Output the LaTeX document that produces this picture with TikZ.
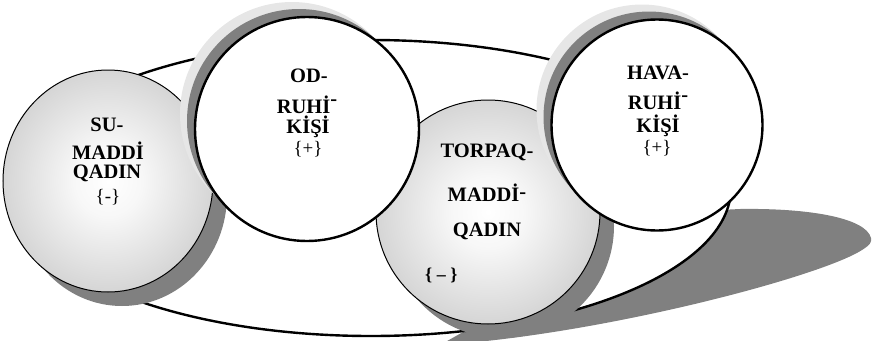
\documentclass[tikz,border=0pt]{standalone}
\usepackage{fontspec}
\setmainfont{Liberation Serif}
\usetikzlibrary{shapes.geometric, shadows}

\definecolor{shadowgrey}{HTML}{808080}
\definecolor{bandlight}{HTML}{E6E6E6}
\definecolor{banddark}{HTML}{808080}
\pgfdeclareradialshading{ballgrey}{\pgfpoint{0bp}{0bp}}{%
  color(0bp)=(white); color(8bp)=(white!97!black); color(50bp)=(black!36)}

\tikzset{
  matter/.style={
    draw=black,
    line width=1pt,
    shading=ballgrey,
    inner sep=0pt,
    general shadow={fill=shadowgrey, shadow xshift=14pt, shadow yshift=-14pt}
    },
  spirit/.style={
    circle,
    draw=black,
    line width=2.4pt,
    fill=white,
    inner sep=0pt,
    general shadow={fill=bandlight, shadow xshift=-15pt, shadow yshift=15pt},
    general shadow={fill=banddark, shadow xshift=-8pt, shadow yshift=8pt}
    },
  word/.style={
    font=\fontsize{20.5}{24}\selectfont\bfseries,
    inner sep=0pt,
    anchor=base
    },
  sign/.style={
    font=\fontsize{19}{22}\selectfont,
    inner sep=0pt,
    anchor=base
    }
}

\begin{document}
\begin{tikzpicture}[x=1pt, y=-1pt]
\useasboundingbox (0,0) rectangle (872,340);
% shadow of the ring
\fill[shadowgrey] (871,238) .. controls (866,218) and (810,208) .. (740,209)
  -- (620,215) -- (520,300) -- (440,345)
  .. controls (600,335) and (820,277) .. (862,250)
  .. controls (870,245) and (872,242) .. (871,238);
\node (ring) [ellipse, draw=black, line width=2.4pt, fill=white, inner sep=0pt,
  minimum width=720pt, minimum height=296pt] at (371,188) {};
% the four elements
\node (su) [matter, ellipse, minimum width=210pt, minimum height=222pt] at (108,181) {};
\node (torpaq) [matter, circle, minimum size=224pt] at (488,212) {};
\node (od) [spirit, minimum size=224pt] at (307,129) {};
\node (hava) [spirit, minimum size=211pt] at (657,125) {};
% su
\node (su1) [word] at (107,131) {SU-};
\node (su2) [word] at (108,159) {MADDİ};
\node (su3) [word] at (107,178) {QADIN};
\node (su4) [sign] at (108,202) {\{-\}};
% od
\node (od1) [word] at (309,82) {OD-};
\node (od2) [word] at (307,113) {RUHİ\raisebox{8pt}{-}};
\node (od3) [word] at (308,133) {KİŞİ};
\node (od4) [sign] at (308,154) {\{+\}};
% torpaq
\node (torpaq1) [word] at (487,157) {TORPAQ-};
\node (torpaq2) [word] at (487,201) {MADDİ\raisebox{3pt}{-}};
\node (torpaq3) [word] at (487,236) {QADIN};
\node (torpaq4) [word, anchor=base west, font=\fontsize{18}{22}\selectfont\bfseries] at (425,280) {\{ – \}};
% hava
\node (hava1) [word] at (658,79) {HAVA-};
\node (hava2) [word] at (658,109) {RUHİ\raisebox{8pt}{-}};
\node (hava3) [word] at (658,132) {KİŞİ};
\node (hava4) [sign] at (657,153) {\{+\}};
\end{tikzpicture}
\end{document}
